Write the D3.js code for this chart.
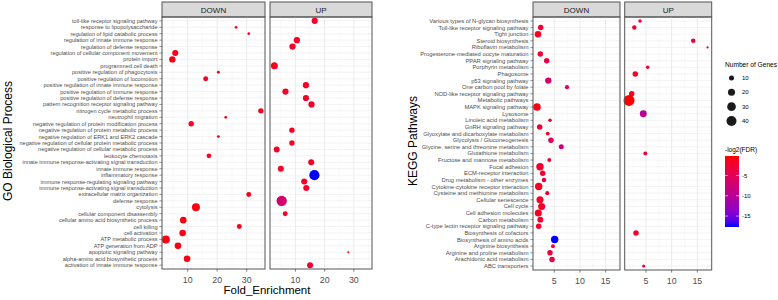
<!DOCTYPE html>
<html><head><meta charset="utf-8">
<script src="https://cdn.jsdelivr.net/npm/d3@7"></script>
<style>body{margin:0;background:#fff}text{font-family:"Liberation Sans",Arial,sans-serif}</style>
</head><body>
<script>
// ---------------- DATA ----------------
const goTerms = [
"toll-like receptor signaling pathway","response to lipopolysaccharide","regulation of lipid catabolic process",
"regulation of innate immune response","regulation of defense response","regulation of cellular component movement",
"protein import","programmed cell death","positive regulation of phagocytosis","positive regulation of locomotion",
"positive regulation of innate immune response","positive regulation of immune response","positive regulation of defense response",
"pattern recognition receptor signaling pathway","nitrogen cycle metabolic process","neutrophil migration",
"negative regulation of protein modification process","negative regulation of protein metabolic process",
"negative regulation of ERK1 and ERK2 cascade","negative regulation of cellular protein metabolic process",
"negative regulation of cellular metabolic process","leukocyte chemotaxis","innate immune response-activating signal transduction",
"innate immune response","inflammatory response","immune response-regulating signaling pathway",
"immune response-activating signal transduction","extracellular matrix organization","defense response","cytolysis",
"cellular component disassembly","cellular amino acid biosynthetic process","cell killing","cell activation",
"ATP metabolic process","ATP generation from ADP","apoptotic signaling pathway","alpha-amino acid biosynthetic process",
"activation of innate immune response"];
// [term, Fold_Enrichment, genes, colour value]
const goDown = [
["response to lipopolysaccharide",26.4,5,-3],["regulation of lipid catabolic process",30.7,5,-3],
["regulation of cellular component movement",5.8,26,-2.5],["protein import",4.8,28,-2],
["positive regulation of phagocytosis",20.4,6,-3],["positive regulation of locomotion",16.1,17,-3],
["nitrogen cycle metabolic process",34.8,20,-3],["neutrophil migration",22.9,5.5,-3],
["negative regulation of protein modification process",11.2,20,-2.5],["negative regulation of ERK1 and ERK2 cascade",20.4,5.5,-3],
["leukocyte chemotaxis",17.2,15,-3],["extracellular matrix organization",30.7,17,-2.5],["cytolysis",12.8,44,-2],
["cellular amino acid biosynthetic process",8.5,30,-2],["cell killing",27.5,17,-2.5],["cell activation",8.3,30,-2],
["ATP metabolic process",2.6,44,-2],["ATP generation from ADP",6.7,30,-2],["alpha-amino acid biosynthetic process",9.8,30,-2]];
const goUp = [
["toll-like receptor signaling pathway",16.6,27,-4],["regulation of innate immune response",10.5,27,-3.5],
["regulation of defense response",9.0,27,-3.5],["programmed cell death",2.8,34,-3],
["positive regulation of innate immune response",13.6,27,-3.5],["positive regulation of immune response",6.6,27,-3.5],
["positive regulation of defense response",13.6,27,-3.5],["pattern recognition receptor signaling pathway",15.5,27,-4],
["negative regulation of protein metabolic process",8.8,20,-3.5],["negative regulation of cellular protein metabolic process",8.8,20,-3.5],
["negative regulation of cellular metabolic process",3.6,25,-3.5],["innate immune response-activating signal transduction",15.4,25,-4],
["innate immune response",5.0,25,-3.5],["inflammatory response",16.5,72,-31],
["immune response-regulating signaling pathway",13.0,25,-4],["immune response-activating signal transduction",13.7,25,-4],
["defense response",5.3,75,-12],["cellular component disassembly",6.5,17,-3.5],
["apoptotic signaling pathway",28.1,3,-3],["activation of innate immune response",15.0,25,-5]];
const goTicks = [10,20,30];

const keggTerms = [
"Various types of N-glycan biosynthesis","Toll-like receptor signaling pathway","Tight junction","Steroid biosynthesis",
"Riboflavin metabolism","Progesterone-mediated oocyte maturation","PPAR signaling pathway","Porphyrin metabolism",
"Phagosome","p53 signaling pathway","One carbon pool by folate","NOD-like receptor signaling pathway","Metabolic pathways",
"MAPK signaling pathway","Lysosome","Linoleic acid metabolism","GnRH signaling pathway","Glyoxylate and dicarboxylate metabolism",
"Glycolysis / Gluconeogenesis","Glycine, serine and threonine metabolism","Glutathione metabolism","Fructose and mannose metabolism",
"Focal adhesion","ECM-receptor interaction","Drug metabolism - other enzymes","Cytokine-cytokine receptor interaction",
"Cysteine and methionine metabolism","Cellular senescence","Cell cycle","Cell adhesion molecules","Carbon metabolism",
"C-type lectin receptor signaling pathway","Biosynthesis of cofactors","Biosynthesis of amino acids","Arginine biosynthesis",
"Arginine and proline metabolism","Arachidonic acid metabolism","ABC transporters"];
// [term, fold, genes, -log2(FDR)]
const keggDown = [
["Toll-like receptor signaling pathway",2.36,12,-2.5],["Tight junction",1.83,17,-1.5],
["Progesterone-mediated oocyte maturation",2.28,12,-2.5],["PPAR signaling pathway",3.53,12,-4],
["p53 signaling pathway",3.84,16,-7],["One carbon pool by folate",7.48,7,-4],["MAPK signaling pathway",1.64,23,-1],
["Linoleic acid metabolism",4.17,5,-2.5],["GnRH signaling pathway",2.16,12,-2.5],["Glyoxylate and dicarboxylate metabolism",3.72,6,-2.5],
["Glycolysis / Gluconeogenesis",4.36,12,-5],["Glycine, serine and threonine metabolism",6.37,10,-8.5],
["Fructose and mannose metabolism",4.03,6,-2.5],["Focal adhesion",2.22,22,-2],["ECM-receptor interaction",2.75,12,-2.5],
["Drug metabolism - other enzymes",3.0,8,-3],["Cytokine-cytokine receptor interaction",1.97,22,-1.5],
["Cysteine and methionine metabolism",3.64,7,-3],["Cellular senescence",2.22,20,-2],["Cell cycle",2.55,20,-2],
["Cell adhesion molecules",1.89,20,-1.5],["Carbon metabolism",2.28,14,-2.5],["C-type lectin receptor signaling pathway",1.97,12,-2],
["Biosynthesis of amino acids",5.08,22,-17.7],["Arginine biosynthesis",4.75,6,-3],
["Arginine and proline metabolism",4.17,12,-3.5],["Arachidonic acid metabolism",4.56,12,-3.5]];
const keggUp = [
["Various types of N-glycan biosynthesis",3.84,5,-3],["Toll-like receptor signaling pathway",2.73,8,-2.5],
["Steroid biosynthesis",14.2,8,-3.5],["Riboflavin metabolism",17.0,2,-3.5],["Porphyrin metabolism",5.34,5,-3],
["Phagosome",2.92,12,-2],["NOD-like receptor signaling pathway",2.22,12,-1.5],["Metabolic pathways",1.70,48,-0.2],
["Lysosome",4.48,19,-10],["Glutathione metabolism",4.87,6,-3],["Biosynthesis of cofactors",3.06,12,-2],
["ABC transporters",4.56,4,-3]];
const keggTicks = [5,10,15];
const sizeLegend = [10,20,30,40];
const colorTicks = [-5,-10,-15];

// ---------------- DRAW ----------------
const W=778,H=300;
const svg=d3.select("body").append("svg").attr("width",W).attr("height",H);
svg.append("rect").attr("width",W).attr("height",H).attr("fill","#fff");

function facet(cfg){
  const g=svg.append("g");
  const y=d3.scalePoint().domain(cfg.terms).range([cfg.top,cfg.bottom]).padding(0.6);
  const color=d3.scaleLinear().domain(cfg.colorDomain).range(["blue","red"]).interpolate(d3.interpolateLab);
  cfg.panels.forEach((p,pi)=>{
    const x=d3.scaleLinear().domain(cfg.xDomain).range([p.x0,p.x1]);
    const pg=g.append("g");
    // strip
    pg.append("rect").attr("x",p.x0).attr("y",cfg.stripTop).attr("width",p.x1-p.x0).attr("height",cfg.top-cfg.stripTop)
      .attr("fill","#d9d9d9").attr("stroke","#555").attr("stroke-width",1);
    pg.append("text").attr("x",(p.x0+p.x1)/2).attr("y",(cfg.stripTop+cfg.top)/2+3).attr("text-anchor","middle")
      .attr("font-size",8).attr("fill","#1a1a1a").text(p.name);
    // grid
    const step=cfg.ticks[1]-cfg.ticks[0];
    const minor=cfg.ticks.map(t=>t-step/2).concat([cfg.ticks[cfg.ticks.length-1]+step/2])
      .filter(v=>v>cfg.xDomain[0]&&v<cfg.xDomain[1]);
    pg.selectAll(".mn").data(minor).join("line").attr("x1",d=>x(d)).attr("x2",d=>x(d)).attr("y1",cfg.top).attr("y2",cfg.bottom)
      .attr("stroke","#f2f2f2").attr("stroke-width",0.5);
    pg.selectAll(".mj").data(cfg.ticks).join("line").attr("x1",d=>x(d)).attr("x2",d=>x(d)).attr("y1",cfg.top).attr("y2",cfg.bottom)
      .attr("stroke","#e6e6e6").attr("stroke-width",0.8);
    pg.selectAll(".yg").data(cfg.terms).join("line").attr("x1",p.x0).attr("x2",p.x1).attr("y1",d=>y(d)).attr("y2",d=>y(d))
      .attr("stroke","#ebebeb").attr("stroke-width",0.6);
    // points
    pg.selectAll(".pt").data(p.data).join("circle").attr("cx",d=>x(d[1])).attr("cy",d=>y(d[0]))
      .attr("r",d=>cfg.size(d[2])).attr("fill",d=>color(d[3]));
    // border
    pg.append("rect").attr("x",p.x0).attr("y",cfg.top).attr("width",p.x1-p.x0).attr("height",cfg.bottom-cfg.top)
      .attr("fill","none").attr("stroke","#555").attr("stroke-width",1);
    // x axis
    pg.selectAll(".xt").data(cfg.ticks).join("line").attr("x1",d=>x(d)).attr("x2",d=>x(d)).attr("y1",cfg.bottom).attr("y2",cfg.bottom+2.7)
      .attr("stroke","#333").attr("stroke-width",0.6);
    pg.selectAll(".xl").data(cfg.ticks).join("text").attr("x",d=>x(d)).attr("y",cfg.bottom+14).attr("text-anchor","middle")
      .attr("font-size",8.8).attr("fill","#4d4d4d").text(d=>d);
    if(pi===0){
      pg.selectAll(".ytk").data(cfg.terms).join("line").attr("x1",p.x0-2.7).attr("x2",p.x0).attr("y1",d=>y(d)).attr("y2",d=>y(d))
        .attr("stroke","#333").attr("stroke-width",0.5);
      pg.selectAll(".yl").data(cfg.terms).join("text").attr("x",p.x0-4.5).attr("y",d=>y(d)).attr("dy","0.35em")
        .attr("text-anchor","end").attr("font-size",cfg.labelSize).attr("fill","#4d4d4d").text(d=>d);
    }
  });
  g.append("text").attr("transform",`translate(${cfg.yTitleX},${cfg.yTitleY}) rotate(-90)`).attr("text-anchor","middle")
    .attr("font-size",12).attr("fill","#000").text(cfg.yTitle);
  if(cfg.xTitle){
    const cx=(cfg.panels[0].x0+cfg.panels[cfg.panels.length-1].x1)/2;
    g.append("text").attr("x",cx).attr("y",cfg.bottom+25).attr("text-anchor","middle").attr("font-size",11.5)
      .attr("fill","#000").text(cfg.xTitle);
  }
  return color;
}

const goSize=d3.scaleSqrt().domain([0,100]).range([0,6]);
const goExt=d3.extent(goDown.concat(goUp),d=>d[3]);
facet({terms:goTerms,top:17,bottom:269,stripTop:2,xDomain:[1.3,36.2],ticks:goTicks,
  panels:[{name:"DOWN",data:goDown,x0:162,x1:265},{name:"UP",data:goUp,x0:270,x1:372}],
  size:goSize,colorDomain:[goExt[0],-1],labelSize:5.6,yTitle:"GO Biological Process",yTitleX:12,yTitleY:141,xTitle:"Fold_Enrichment"});

const keggSize=d3.scaleSqrt().domain([0,40]).range([0,5]);
const keggExt=d3.extent(keggDown.concat(keggUp),d=>d[3]);
const kColor=facet({terms:keggTerms,top:17,bottom:270,stripTop:2,xDomain:[0.86,17.8],ticks:keggTicks,
  panels:[{name:"DOWN",data:keggDown,x0:533,x1:620},{name:"UP",data:keggUp,x0:624.7,x1:711.7}],
  size:keggSize,colorDomain:keggExt,labelSize:5.8,yTitle:"KEGG Pathways",yTitleX:417,yTitleY:141});

// size legend
const lg=svg.append("g");
lg.append("text").attr("x",725).attr("y",67).attr("font-size",6.6).attr("fill","#000").text("Number of Genes");
const ly=d3.scalePoint().domain(sizeLegend).range([78,121]);
lg.selectAll(".lc").data(sizeLegend).join("circle").attr("cx",731.5).attr("cy",d=>ly(d)).attr("r",d=>keggSize(d)).attr("fill","#1a1a1a");
lg.selectAll(".lt").data(sizeLegend).join("text").attr("x",742).attr("y",d=>ly(d)).attr("dy","0.35em").attr("font-size",6)
  .attr("fill","#000").text(d=>d);
// colour bar
lg.append("text").attr("x",725).attr("y",152).attr("font-size",6.5).attr("fill","#000").text("-log2(FDR)");
const cb=d3.scaleLinear().domain(keggExt).range([227,156]);
const defs=svg.append("defs");
const grad=defs.append("linearGradient").attr("id","cbar").attr("x1",0).attr("y1",1).attr("x2",0).attr("y2",0);
d3.range(0,1.0001,0.1).forEach(t=>{
  const v=keggExt[0]+t*(keggExt[1]-keggExt[0]);
  grad.append("stop").attr("offset",t).attr("stop-color",kColor(v));
});
lg.append("rect").attr("x",725).attr("y",156).attr("width",14).attr("height",71).attr("fill","url(#cbar)");
colorTicks.forEach(t=>{
  lg.append("line").attr("x1",725).attr("x2",728).attr("y1",cb(t)).attr("y2",cb(t)).attr("stroke","#fff").attr("stroke-width",0.6);
  lg.append("line").attr("x1",736).attr("x2",739).attr("y1",cb(t)).attr("y2",cb(t)).attr("stroke","#fff").attr("stroke-width",0.6);
});
lg.selectAll(".ct").data(colorTicks).join("text").attr("x",742).attr("y",d=>cb(d)).attr("dy","0.35em").attr("font-size",6)
  .attr("fill","#000").text(d=>d);
</script>
</body></html>
